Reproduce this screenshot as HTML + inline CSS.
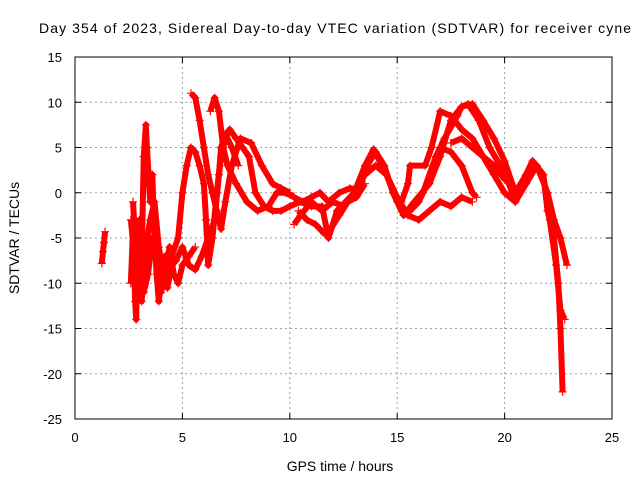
<!DOCTYPE html>
<html><head><meta charset="utf-8"><style>
body{margin:0;background:#fff}
svg{display:block;font-family:"Liberation Sans",sans-serif}
</style></head><body>
<svg id="chart" width="640" height="480">
<text x="335" y="33" font-size="14" text-anchor="middle" textLength="592">Day 354 of 2023, Sidereal Day-to-day VTEC variation (SDTVAR) for receiver cyne</text>
<text x="340" y="471" font-size="14" text-anchor="middle">GPS time / hours</text>
<text transform="translate(19,238) rotate(-90)" font-size="14" text-anchor="middle">SDTVAR / TECUs</text>
<g id="grid"></g><g id="ticks"></g><g id="series"></g>
<rect x="75" y="57" width="537" height="362" fill="none" stroke="#000" stroke-width="1"/>
</svg>
<script>
const xTicks=[0,5,10,15,20,25];
const yTicks=[15,10,5,0,-5,-10,-15,-20,-25];
const s1=[[1.25,-7.8],[1.3,-6.5],[1.35,-5.5],[1.4,-4.3]];
const s2=[[2.6,-10],[2.7,-4],[2.8,-12],[2.85,-14],[2.9,-6],[3.0,-3],[3.1,-8],[3.2,4],[3.3,7.5],[3.35,5],[3.5,-1],[3.6,2],[3.7,-5],[3.8,-9],[3.9,-12],[4.0,-10],[4.2,-7],[4.4,-7.5]];
const s3=[[2.7,-1],[2.8,-5],[3.0,-9],[3.1,-12],[3.3,-6],[3.5,-3],[3.7,-1],[3.9,-6],[4.1,-9],[4.3,-10.5],[4.5,-8],[4.7,-7.5],[5.0,-6],[5.3,-8],[5.6,-8.5],[5.9,-7],[6.2,-5],[6.5,-3],[6.7,2],[6.8,5],[7.0,6.5],[7.3,5],[7.6,3]];
const s4=[[4.5,-7],[4.8,-5],[5.0,0],[5.2,3],[5.4,5],[5.6,4.5],[5.8,3],[6.0,1],[6.1,-3],[6.2,-8],[6.4,-5],[6.6,0],[6.8,4],[7.0,6],[7.2,7],[7.5,6],[7.8,5],[8.1,4],[8.4,0],[8.8,-1.5],[9.2,-2],[9.6,-2],[10.0,-1.5],[10.5,-1],[11,-1.5],[11.5,-1.5],[11.8,-5],[12.2,-2],[13,0],[13.5,3],[13.9,4.8],[14.5,2],[15,-1],[15.3,-2.5],[15.8,-1],[16.5,1],[17,4],[17.5,8],[18,9.5],[18.3,9.8],[18.8,8],[19.3,5],[19.8,3],[20.2,1],[20.5,-1],[21,2],[21.3,3.5],[21.8,2],[22,-2],[22.3,-5],[22.5,-10],[22.6,-15],[22.7,-22]];
const s5=[[5.4,11],[5.6,10.5],[5.8,8],[6.0,5],[6.2,2],[6.4,0],[6.6,-2],[6.8,-4],[7.0,-1],[7.3,3],[7.7,6],[8.2,5.5],[8.7,3],[9.2,1],[9.6,0.5],[10,0]];
const s6=[[6.3,9],[6.5,10.5],[6.7,9],[6.9,5],[7.1,3],[7.5,1],[8,-1],[8.5,-2],[9,-1.5],[9.4,0],[9.8,0],[10.2,-0.5],[10.6,-1],[11,-0.5],[11.4,0],[11.8,-1],[12.3,0],[12.8,0.5],[13.2,0.3],[13.6,3],[14,4.5],[14.4,3],[14.8,0],[15.2,-2],[15.6,-2],[16,-1],[16.2,0],[16.8,4],[17.2,6],[17.8,8.5],[18,9.5],[18.5,9.8],[19,8],[19.5,6],[20,3.5],[20.5,0],[21,2],[21.3,3.5],[21.8,2],[22.1,-3],[22.4,-8],[22.6,-13],[22.8,-14]];
const s7=[[10.2,-3.5],[10.5,-2.5],[11,-1],[11.5,-2],[12,-1],[12.5,-1.5],[13,0],[13.5,2],[14,3],[14.5,2],[15,-0.5],[15.5,-2.5],[16,-3],[16.5,-2],[17,-1],[17.5,-1.5],[18,-0.5],[18.5,-1]];
const s8=[[15.2,-1],[15.5,1],[15.6,3],[16.3,3],[16.6,5],[17,9],[17.5,8.5],[18,7],[18.5,6],[19,4],[19.5,2],[20,0],[20.5,-1],[21,1],[21.5,3],[22,0],[22.3,-3],[22.6,-5],[22.9,-8]];
const s9=[[17,5],[17.5,4.5],[18,3],[18.5,0],[18.7,-0.5]];
const s10=[[17.5,5.5],[18,6],[18.5,5],[19,4],[19.5,3],[20,1.5],[20.5,0.5]];
const s11=[[2.6,-3],[2.8,-8],[3.0,-4],[3.2,-11],[3.4,-9],[3.6,-5],[3.8,-7],[4.0,-11],[4.2,-9],[4.4,-6],[4.6,-9],[4.8,-10],[5.0,-8],[5.3,-7],[5.6,-6]];
const s12=[[10.4,-2],[10.8,-3],[11.2,-3.5],[11.6,-4.5],[11.9,-4],[12.3,-2.5],[12.7,-1],[13.1,-0.5],[13.5,1]];
const seriesList=[s1,s2,s3,s4,s5,s6,s7,s8,s9,s10,s11,s12];
const X0=75,X1=612,Y0=419,Y1=57;
const xs=t=>X0+(t-0)/25*(X1-X0);
const ys=v=>Y0-(v+25)/40*(Y0-Y1);
const NS='http://www.w3.org/2000/svg';
const grid=document.getElementById('grid'),ticks=document.getElementById('ticks'),ser=document.getElementById('series');
function mk(tag,attrs,parent){const e=document.createElementNS(NS,tag);for(const k in attrs)e.setAttribute(k,attrs[k]);parent.appendChild(e);return e;}
xTicks.forEach(t=>{
 const x=xs(t);
 if(t>0&&t<25){const g=mk('line',{x1:x,x2:x,y1:Y1,y2:Y0,stroke:'#a0a0a0','stroke-dasharray':'2,3'},grid);
 
 }
 const l=mk('text',{x:x,y:442,'font-size':'13','text-anchor':'middle'},ticks);l.textContent=t;
 
 
 mk('line',{x1:x,x2:x,y1:Y0,y2:Y0-6,stroke:'#000'},ticks);
 mk('line',{x1:x,x2:x,y1:Y1,y2:Y1+6,stroke:'#000'},ticks);
});
yTicks.forEach(v=>{
 const y=ys(v);
 if(v>-25&&v<15){const g=mk('line',{x1:X0,x2:X1,y1:y,y2:y,stroke:'#a0a0a0','stroke-dasharray':'2,3'},grid);
 
 }
 const l=mk('text',{x:62,y:y+5,'font-size':'13','text-anchor':'end'},ticks);l.textContent=v;
 
 
 mk('line',{x1:X0,x2:X0+6,y1:y,y2:y,stroke:'#000'},ticks);
 mk('line',{x1:X1,x2:X1-6,y1:y,y2:y,stroke:'#000'},ticks);
});
seriesList.forEach((s,i)=>{
 const g=mk('g',{},ser);
 
 
 mk('polyline',{points:s.map(p=>xs(p[0])+','+ys(p[1])).join(' '),fill:'none',stroke:'#f00','stroke-width':'6','stroke-linejoin':'round'},g);
 s.forEach(p=>{
  const x=xs(p[0]),y=ys(p[1]);
  const m=mk('path',{d:`M${x-4},${y}H${x+4}M${x},${y-4}V${y+4}`,stroke:'#f00','stroke-width':'1.2'},g);
  
  
 });
});
</script>
</body></html>
